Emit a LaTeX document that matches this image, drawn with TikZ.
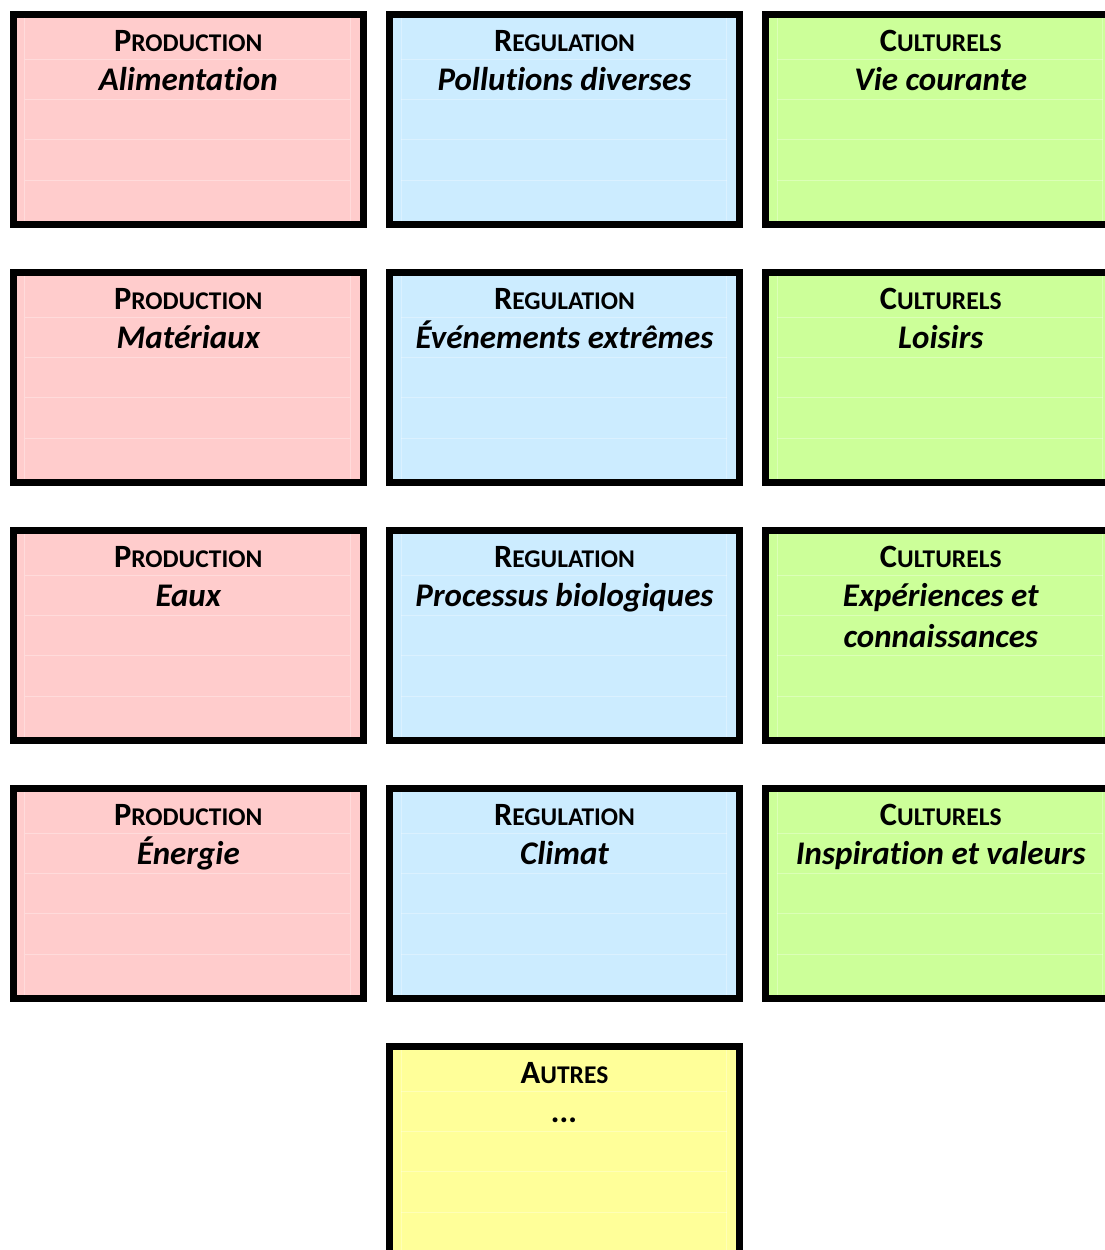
\documentclass[tikz,border=0pt]{standalone}
\usepackage{fontspec}
\setmainfont{Carlito}[Ligatures=NoCommon]
\usetikzlibrary{positioning,calc}

% fake small capitals: big first letter, smaller rest
\newcommand{\capsmall}[2]{{\fontsize{32.5}{32.5}\selectfont #1}{\fontsize{25.5}{25.5}\selectfont #2}}

\begin{document}
\begin{tikzpicture}[
            x=1pt, y=-1pt,
            faint/.style={draw=white, line width=0.8pt, opacity=0.3},
            service/.style={draw=black, line width=7pt, minimum width=350pt, minimum height=210pt, inner sep=0pt,
                path picture={
                    \foreach \d in {44.5,84.5,124.5,165.5}
                        \draw[faint] ([xshift=11.5pt,yshift=-\d pt]path picture bounding box.north west)
                            -- ([xshift=-13pt,yshift=-\d pt]path picture bounding box.north east);
                    \draw[faint] ([xshift=11.5pt]path picture bounding box.north west)
                        -- ([xshift=11.5pt]path picture bounding box.south west);
                    \draw[faint] ([xshift=-13pt]path picture bounding box.north east)
                        -- ([xshift=-13pt]path picture bounding box.south east);
                }},
            kind/.style={anchor=base, font=\bfseries, text=black},
            item/.style={anchor=base, font=\fontsize{33}{41}\selectfont\bfseries\itshape, align=center, text=black}
        ]

        % Define colors
        \definecolor{prodColor}{RGB}{255,204,204};
        \definecolor{regColor}{RGB}{204,236,255};
        \definecolor{cultColor}{RGB}{204,255,153};
        \definecolor{otherColor}{RGB}{255,255,153};

        % Page frame
        \useasboundingbox (0,0) rectangle (1105,1250);
        \clip (0,0) rectangle (1105,1250);

        % Production column
        \node[service, fill=prodColor] (prodAliment) at (188.25,119.5) {};
        \node[kind] (prodAliment-kind) at ([yshift=-40pt]prodAliment.north) {\capsmall{P}{RODUCTION}};
        \node[item] (prodAliment-item) at ([yshift=-79pt]prodAliment.north) {Alimentation};

        \node[service, fill=prodColor] (prodMater) at (188.25,377.5) {};
        \node[kind] (prodMater-kind) at ([yshift=-40pt]prodMater.north) {\capsmall{P}{RODUCTION}};
        \node[item] (prodMater-item) at ([yshift=-79pt]prodMater.north) {Matériaux};

        \node[service, fill=prodColor] (prodEaux) at (188.25,635.5) {};
        \node[kind] (prodEaux-kind) at ([yshift=-40pt]prodEaux.north) {\capsmall{P}{RODUCTION}};
        \node[item] (prodEaux-item) at ([yshift=-79pt]prodEaux.north) {Eaux};

        \node[service, fill=prodColor] (prodEnergie) at (188.25,893.5) {};
        \node[kind] (prodEnergie-kind) at ([yshift=-40pt]prodEnergie.north) {\capsmall{P}{RODUCTION}};
        \node[item] (prodEnergie-item) at ([yshift=-79pt]prodEnergie.north) {Énergie};

        % Regulation column
        \node[service, fill=regColor] (regPollu) at (564.5,119.5) {};
        \node[kind] (regPollu-kind) at ([yshift=-40pt]regPollu.north) {\capsmall{R}{EGULATION}};
        \node[item] (regPollu-item) at ([yshift=-79pt]regPollu.north) {Pollutions diverses};

        \node[service, fill=regColor] (regExtreme) at (564.5,377.5) {};
        \node[kind] (regExtreme-kind) at ([yshift=-40pt]regExtreme.north) {\capsmall{R}{EGULATION}};
        \node[item] (regExtreme-item) at ([yshift=-79pt]regExtreme.north) {Événements extrêmes};

        \node[service, fill=regColor] (regBio) at (564.5,635.5) {};
        \node[kind] (regBio-kind) at ([yshift=-40pt]regBio.north) {\capsmall{R}{EGULATION}};
        \node[item] (regBio-item) at ([yshift=-79pt]regBio.north) {Processus biologiques};

        \node[service, fill=regColor] (regClimat) at (564.5,893.5) {};
        \node[kind] (regClimat-kind) at ([yshift=-40pt]regClimat.north) {\capsmall{R}{EGULATION}};
        \node[item] (regClimat-item) at ([yshift=-79pt]regClimat.north) {Climat};

        % Cultural column (runs past the right edge)
        \node[service, fill=cultColor] (cultVie) at (940.75,119.5) {};
        \node[kind] (cultVie-kind) at ([yshift=-40pt]cultVie.north) {\capsmall{C}{ULTURELS}};
        \node[item] (cultVie-item) at ([yshift=-79pt]cultVie.north) {Vie courante};

        \node[service, fill=cultColor] (cultLoisirs) at (940.75,377.5) {};
        \node[kind] (cultLoisirs-kind) at ([yshift=-40pt]cultLoisirs.north) {\capsmall{C}{ULTURELS}};
        \node[item] (cultLoisirs-item) at ([yshift=-79pt]cultLoisirs.north) {Loisirs};

        % two lines: base anchor sits on the last line
        \node[service, fill=cultColor] (cultExper) at (940.75,635.5) {};
        \node[kind] (cultExper-kind) at ([yshift=-40pt]cultExper.north) {\capsmall{C}{ULTURELS}};
        \node[item] (cultExper-item) at ([yshift=-120pt]cultExper.north) {Expériences et\\connaissances};

        \node[service, fill=cultColor] (cultInspi) at (940.75,893.5) {};
        \node[kind] (cultInspi-kind) at ([yshift=-40pt]cultInspi.north) {\capsmall{C}{ULTURELS}};
        \node[item] (cultInspi-item) at ([yshift=-79pt]cultInspi.north) {Inspiration et valeurs};

        % Others (cut by the bottom edge)
        \node[service, fill=otherColor] (autres) at (564.5,1151.5) {};
        \node[kind] (autres-kind) at ([yshift=-40pt]autres.north) {\capsmall{A}{UTRES}};
        \node[item] (autres-item) at ([yshift=-79pt]autres.north) {...};

        \end{tikzpicture}
\end{document}
